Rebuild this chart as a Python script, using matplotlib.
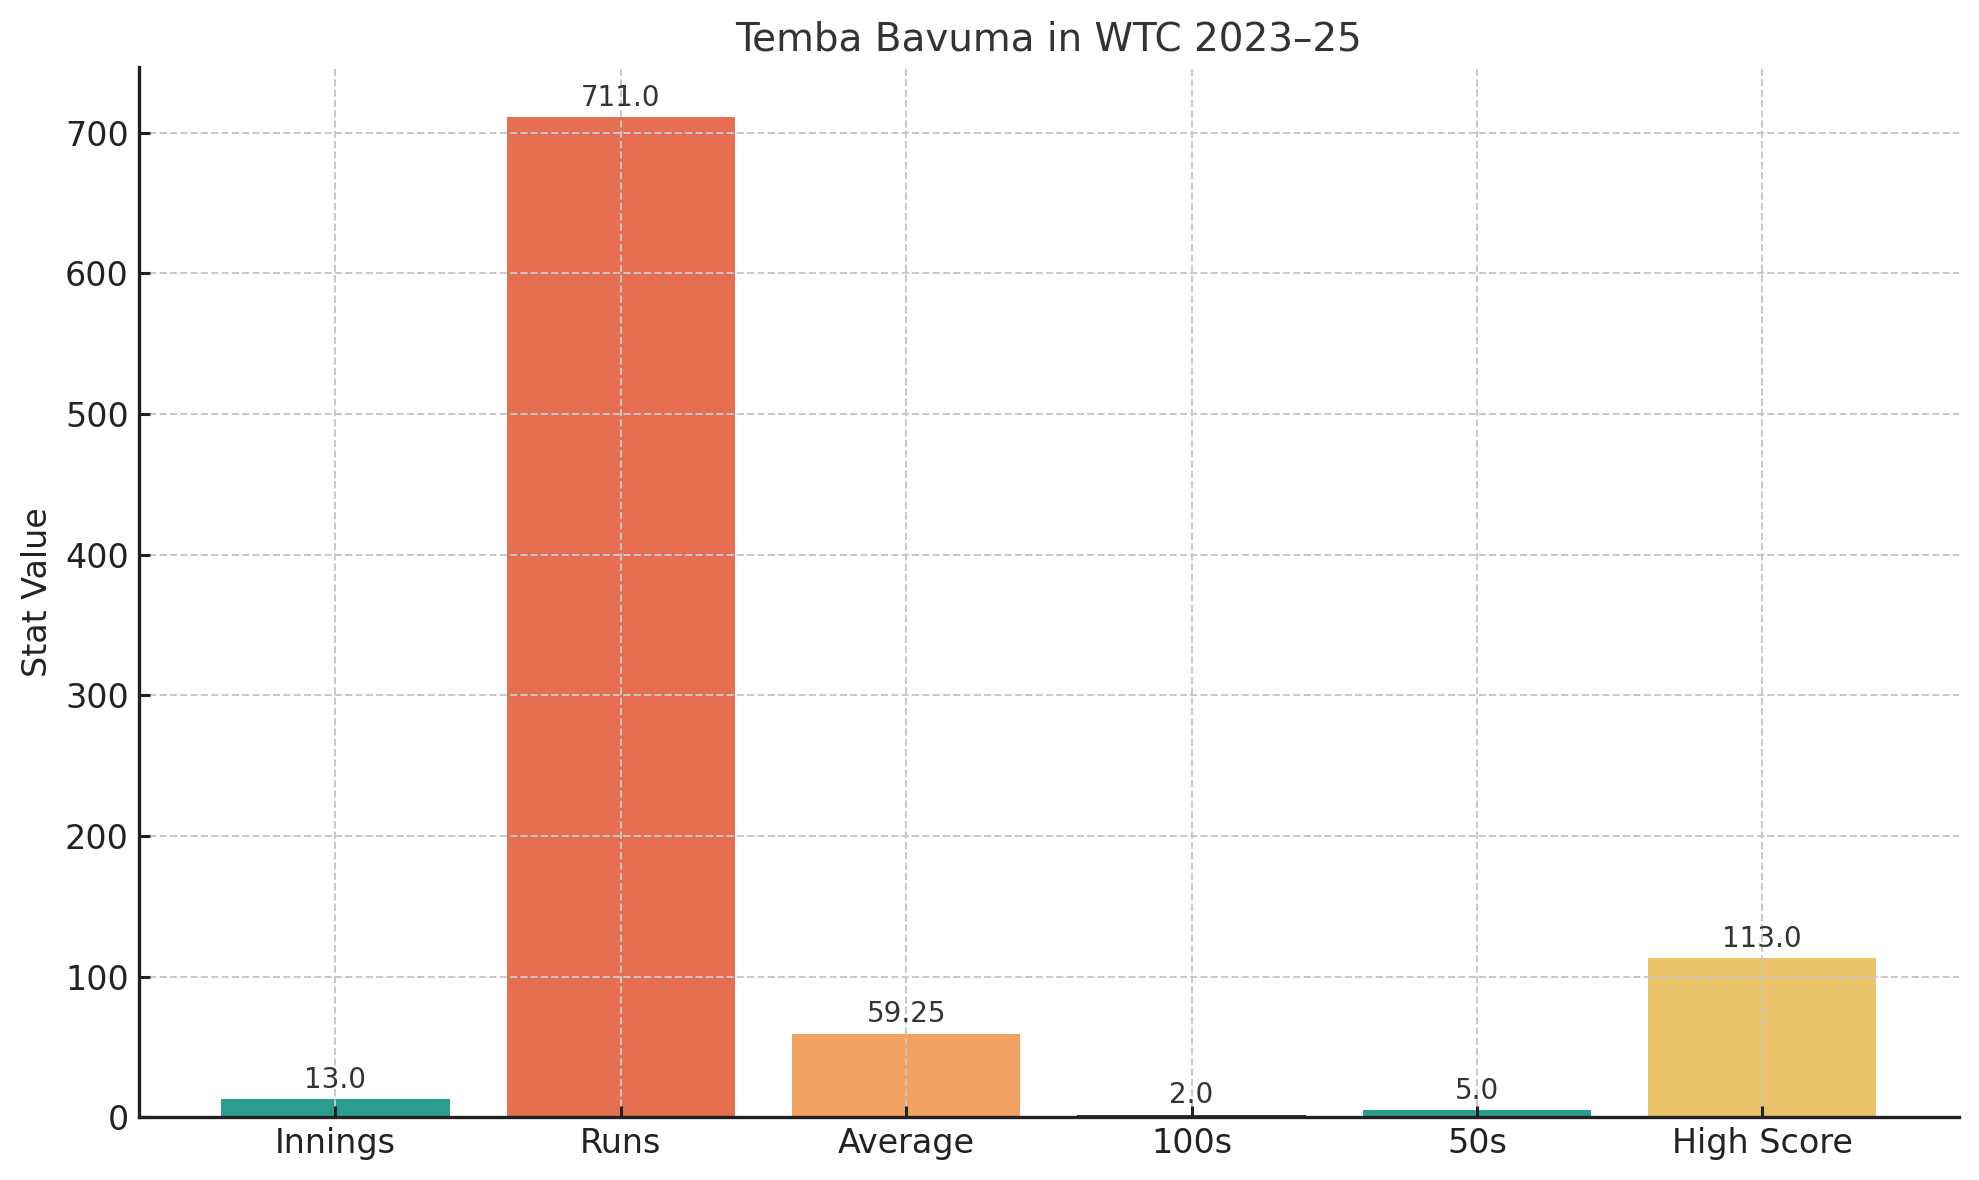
import matplotlib.pyplot as plt

stats = ['Innings', 'Runs', 'Average', '100s', '50s', 'High Score']
values = [13.0, 711.0, 59.25, 2.0, 5.0, 113.0]
colors = ['#2a9d8f', '#e76f51', '#f4a261', '#264653', '#2a9d8f', '#e9c46a']

fig, ax = plt.subplots(figsize=(9.895, 5.9), dpi=200)
fig.subplots_adjust(left=0.070, right=0.990, bottom=0.053, top=0.943)

bars = ax.bar(stats, values, color=colors, width=0.8)
for b, v in zip(bars, values):
    ax.text(b.get_x() + b.get_width() / 2, v + 4, str(v), ha='center', va='bottom',
            fontsize=10, color='#333333')

ax.set_ylim(0, 746.5)
ax.set_title('Temba Bavuma in WTC 2023–25', fontsize=14, color='#333333')
ax.set_ylabel('Stat Value', fontsize=12, color='#222222')
ax.tick_params(axis='both', labelsize=12, direction='in', length=4, width=1.1,
               colors='#222222')
ax.grid(True, linestyle='--', color='#c8c8c8', linewidth=0.7)
ax.set_axisbelow(False)
for s in ['top', 'right']:
    ax.spines[s].set_visible(False)
for s in ['left', 'bottom']:
    ax.spines[s].set_color('#222222')
    ax.spines[s].set_linewidth(1.2)
    ax.spines[s].set_zorder(3)

fig.savefig('out.png', dpi=200)
